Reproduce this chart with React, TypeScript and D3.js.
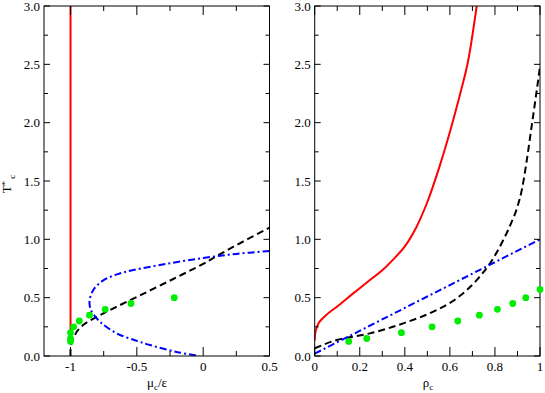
import React from "react";
import * as d3 from "d3";

// ---------- data ----------
// Left panel (x = mu_c / epsilon)
const leftRedX = [-1, -1];
const leftRedT = [0.13, 3.0];

const leftBlackX = [-1, -1, -0.99, -0.97, -0.952, -0.9, -0.827, -0.702, -0.476, -0.226, 0, 0.1, 0.25, 0.5];
const leftBlackT = [0, 0.05, 0.12, 0.17, 0.21, 0.27, 0.32, 0.394, 0.52, 0.66, 0.79, 0.855, 0.95, 1.1];

const leftBlueX = [0.5, 0.25, 0, -0.275, -0.526, -0.65, -0.75, -0.82, -0.85, -0.857, -0.845, -0.815, -0.77, -0.652, -0.5, -0.401, -0.2, -0.03];
const leftBlueT = [0.9, 0.875, 0.84, 0.79, 0.737, 0.7, 0.65, 0.58, 0.51, 0.45, 0.39, 0.34, 0.285, 0.194, 0.13, 0.094, 0.035, 0];

const leftDotX = [-1, -1, -1, -0.977, -0.934, -0.857, -0.739, -0.544, -0.218];
const leftDotT = [0.125, 0.15, 0.2, 0.25, 0.3, 0.35, 0.4, 0.45, 0.5];

// Right panel (x = rho_c)
const rightRedX = [0, 0.005, 0.02, 0.05, 0.1, 0.171, 0.245, 0.3, 0.35, 0.4, 0.45, 0.5, 0.55, 0.6, 0.65, 0.68, 0.719];
const rightRedT = [0.13, 0.22, 0.29, 0.35, 0.425, 0.537, 0.651, 0.735, 0.83, 0.94, 1.1, 1.32, 1.6, 1.92, 2.28, 2.52, 3.0];

const rightBlackX = [0, 0.098, 0.171, 0.245, 0.393, 0.541, 0.63, 0.719, 0.778, 0.837, 0.87, 0.9, 0.92, 0.94, 0.96, 0.98, 1.0];
const rightBlackT = [0.066, 0.137, 0.166, 0.194, 0.28, 0.394, 0.494, 0.651, 0.794, 0.994, 1.13, 1.28, 1.43, 1.66, 1.93, 2.2, 2.48];

const rightBlueX = [0, 0.5, 1.0];
const rightBlueT = [0.02, 0.51, 1.0];

const rightDotX = [0.151, 0.231, 0.385, 0.521, 0.635, 0.731, 0.811, 0.879, 0.937, 1.0];
const rightDotT = [0.125, 0.15, 0.2, 0.25, 0.3, 0.35, 0.4, 0.45, 0.5, 0.57];

// ticks
const yMajor = [0, 0.5, 1, 1.5, 2, 2.5, 3];
const yMinor = [0.25, 0.75, 1.25, 1.75, 2.25, 2.75];
const yLabels = ["0.0", "0.5", "1.0", "1.5", "2.0", "2.5", "3.0"];
const leftXMajor = [-1, -0.5, 0, 0.5];
const leftXMinor = [-0.75, -0.25, 0.25];
const leftXLabels = ["-1", "-0.5", "0", "0.5"];
const rightXMajor = [0, 0.2, 0.4, 0.6, 0.8, 1];
const rightXMinor = [0.1, 0.3, 0.5, 0.7, 0.9];
const rightXLabels = ["0", "0.2", "0.4", "0.6", "0.8", "1"];

const FONT = "Liberation Serif, Times New Roman, DejaVu Serif, serif";

const zip = (xs: number[], ys: number[]) => xs.map((x, i) => [x, ys[i]] as [number, number]);

type PanelProps = {
  x0: number; x1: number; y0: number; y1: number;
  domain: [number, number];
  xMajor: number[]; xMinor: number[]; xLabels: string[];
  children: (x: d3.ScaleLinear<number, number>, y: d3.ScaleLinear<number, number>) => React.ReactNode;
  id: string;
};

const txt = { fontFamily: FONT, fontSize: 13, fill: "#000" } as React.CSSProperties;

function Panel({ x0, x1, y0, y1, domain, xMajor, xMinor, xLabels, children, id }: PanelProps) {
  const x = d3.scaleLinear().domain(domain).range([x0, x1]);
  const y = d3.scaleLinear().domain([0, 3]).range([y1, y0]);
  const tickMajX = 9, tickMinX = 5, tickMajY = 6, tickMinY = 4;
  const tc = "#000";
  return (
    <g>
      <defs>
        <clipPath id={id}>
          <rect x={x0} y={y0} width={x1 - x0} height={y1 - y0} />
        </clipPath>
      </defs>
      <g clipPath={`url(#${id})`}>{children(x, y)}</g>
      {xMajor.map((v, i) => (
        <g key={"xm" + i}>
          <line x1={x(v)} x2={x(v)} y1={y1} y2={y1 - tickMajX} stroke={tc} strokeWidth={1} />
          <line x1={x(v)} x2={x(v)} y1={y0} y2={y0 + tickMajX} stroke={tc} strokeWidth={1} />
          <text x={x(v)} y={y1 + 15} textAnchor="middle" style={txt}>
            {xLabels[i]}
          </text>
        </g>
      ))}
      {xMinor.map((v, i) => (
        <g key={"xn" + i}>
          <line x1={x(v)} x2={x(v)} y1={y1} y2={y1 - tickMinX} stroke={tc} strokeWidth={1} />
          <line x1={x(v)} x2={x(v)} y1={y0} y2={y0 + tickMinX} stroke={tc} strokeWidth={1} />
        </g>
      ))}
      {yMajor.map((v, i) => (
        <g key={"ym" + i}>
          <line x1={x0} x2={x0 + tickMajY} y1={y(v)} y2={y(v)} stroke={tc} strokeWidth={1} />
          <line x1={x1} x2={x1 - tickMajY} y1={y(v)} y2={y(v)} stroke={tc} strokeWidth={1} />
          <text x={x0 - 4} y={y(v) + 4.5} textAnchor="end" style={txt}>
            {yLabels[i]}
          </text>
        </g>
      ))}
      {yMinor.map((v, i) => (
        <g key={"yn" + i}>
          <line x1={x0} x2={x0 + tickMinY} y1={y(v)} y2={y(v)} stroke={tc} strokeWidth={1} />
          <line x1={x1} x2={x1 - tickMinY} y1={y(v)} y2={y(v)} stroke={tc} strokeWidth={1} />
        </g>
      ))}
      <rect x={x0} y={y0} width={x1 - x0} height={y1 - y0} fill="none" stroke="#000" strokeWidth={1} />
    </g>
  );
}

export default function App() {
  const W = 545, H = 393;
  const top = 6, bottom = 356;

  const lineCurve = (x: d3.ScaleLinear<number, number>, y: d3.ScaleLinear<number, number>, curve: d3.CurveFactory) =>
    d3.line<[number, number]>().x((d) => x(d[0])).y((d) => y(d[1])).curve(curve);

  const dashed = "7,4";
  const dashDot = "7,3,2,3";

  const xl = d3.scaleLinear().domain([-1.2, 0.5]).range([44, 269.5]);
  const xr = d3.scaleLinear().domain([0, 1]).range([314.7, 540]);
  const yy = d3.scaleLinear().domain([0, 3]).range([bottom, top]);

  return (
    <svg width={W} height={H} style={{ position: "absolute", left: 0, top: 0, background: "#fff" }}>
      <rect x={0} y={0} width={W} height={H} fill="#fff" />
      <Panel
        id="clipL" x0={44} x1={269.5} y0={top} y1={bottom} domain={[-1.2, 0.5]}
        xMajor={leftXMajor} xMinor={leftXMinor} xLabels={leftXLabels}
      >
        {(x, y) => (
          <g fill="none">
            <path d={lineCurve(x, y, d3.curveLinear)(zip(leftRedX, leftRedT)) || ""} stroke="#ff0000" strokeWidth={2} />
            <path d={lineCurve(x, y, d3.curveCatmullRom)(zip(leftBlackX, leftBlackT)) || ""} stroke="#000" strokeWidth={2} strokeDasharray={dashed} />
            <path d={lineCurve(x, y, d3.curveCatmullRom)(zip(leftBlueX, leftBlueT)) || ""} stroke="#0000ff" strokeWidth={2} strokeDasharray={dashDot} />
          </g>
        )}
      </Panel>
      <Panel
        id="clipR" x0={314.7} x1={540} y0={top} y1={bottom} domain={[0, 1]}
        xMajor={rightXMajor} xMinor={rightXMinor} xLabels={rightXLabels}
      >
        {(x, y) => (
          <g fill="none">
            <path d={lineCurve(x, y, d3.curveCatmullRom)(zip(rightRedX, rightRedT)) || ""} stroke="#ff0000" strokeWidth={2} />
            <path d={lineCurve(x, y, d3.curveMonotoneX)(zip(rightBlackX, rightBlackT)) || ""} stroke="#000" strokeWidth={2} strokeDasharray={dashed} />
            <path d={lineCurve(x, y, d3.curveLinear)(zip(rightBlueX, rightBlueT)) || ""} stroke="#0000ff" strokeWidth={2} strokeDasharray={dashDot} />
          </g>
        )}
      </Panel>
      <g fill="#00ee00">
        {leftDotX.map((v, i) => <circle key={"l" + i} cx={xl(v)} cy={yy(leftDotT[i])} r={3.4} />)}
        {rightDotX.map((v, i) => <circle key={"r" + i} cx={xr(v)} cy={yy(rightDotT[i])} r={3.4} />)}
      </g>
      <text x={157} y={387} textAnchor="middle" style={txt}>
        μ<tspan dy={3} fontSize={9}>c</tspan><tspan dy={-3}>/ε</tspan>
      </text>
      <text x={428} y={387} textAnchor="middle" style={txt}>
        ρ<tspan dy={3} fontSize={9}>c</tspan>
      </text>
      <text transform="translate(11,184) rotate(-90)" textAnchor="middle" style={txt}>
        T<tspan dy={-3} fontSize={9}>*</tspan><tspan dy={7} fontSize={9}>{"\u00a0c"}</tspan>
      </text>
    </svg>
  );
}
